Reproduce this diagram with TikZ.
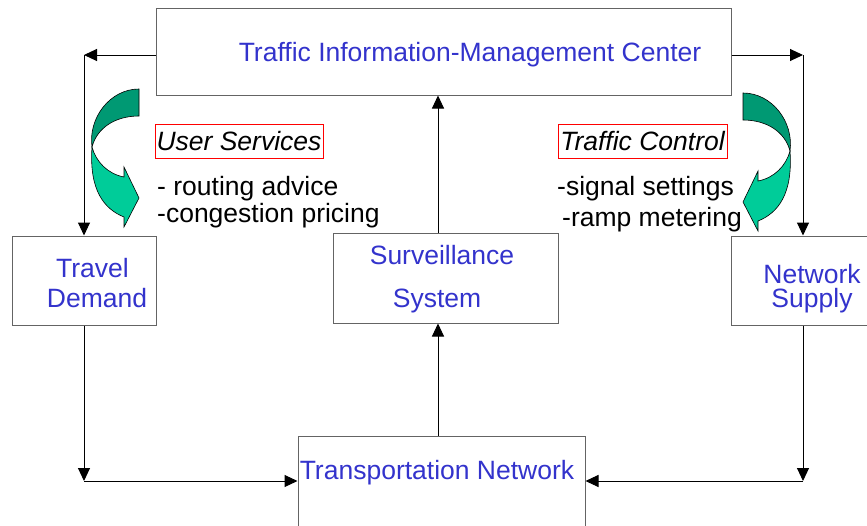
\documentclass[tikz,border=0pt]{standalone}
\usepackage{fontspec}
\setmainfont{Liberation Sans}
\usepackage{xcolor}
\usetikzlibrary{positioning}
\usetikzlibrary{arrows.meta}
\usetikzlibrary{calc}

\definecolor{txtblue}{RGB}{51,51,204}
\definecolor{boxgray}{RGB}{100,100,100}
\definecolor{bandback}{RGB}{0,153,115}
\definecolor{bandfront}{RGB}{0,204,153}

% twisted band arrow, drawn for the left side
\newcommand{\bendarrow}{%
  \filldraw[fill=bandback, draw=black, line width=0.6pt]
    (139,89) -- (139,116) .. controls (115,116) and (97,128) .. (92,147)
    .. controls (88,118) and (110,89) .. (139,89) -- cycle;
  \filldraw[fill=bandfront, draw=black, line width=0.6pt]
    (92,147) .. controls (96,162) and (108,174) .. (124,177)
    -- (124,167) -- (139,198) -- (124,227) -- (124,217)
    .. controls (104,209) and (89,190) .. (92,147) -- cycle;
}

\begin{document}
\begin{tikzpicture}[x=1pt, y=-1pt, >={Triangle[length=13pt,width=12pt]},
                    block/.style={rectangle, draw=boxgray, line width=1pt, inner sep=0pt},
                    boxtext/.style={text=txtblue, font=\fontsize{26.5}{30}\selectfont, align=center, inner sep=0pt},
                    tag/.style={draw=red, line width=0.6pt, font=\fontsize{26.5}{30}\selectfont\itshape, inner sep=0pt, minimum height=34pt},
                    items/.style={font=\fontsize{26.5}{30}\selectfont, align=left, inner sep=0pt, anchor=west},
                    flow/.style={->, line width=1pt}]
      \useasboundingbox (0,0) rectangle (867,525);

      % boxes
      \node[block, minimum width=575pt, minimum height=87pt] (tmc) at (443.5,51.5) {};
      \node[block, minimum width=144pt, minimum height=89pt] (demand) at (84,280.5) {};
      \node[block, minimum width=225pt, minimum height=90pt] (surv) at (445.5,278) {};
      \node[block, minimum width=144pt, minimum height=89pt] (supply) at (803,280.5) {};
      \node[block, minimum width=287pt, minimum height=108pt] (net) at (441.5,490) {};

      % box texts
      \node[boxtext] (tmctext) at (470,55) {Traffic Information-Management Center};
      \node[boxtext] (demandtext) at (95,283) {Travel\hspace*{5pt}\\\hspace*{4pt}Demand};
      \node[boxtext] (survtext) at (442,279) {Surveillance\\[13pt]System\hspace*{10pt}};
      \node[boxtext] (supplytext) at (812,289) {Network\\[-6pt]Supply};
      \node[boxtext] (nettext) at (437,473) {Transportation Network};

      % services and control
      \node[tag, minimum width=168pt] (services) at (239,141) {User Services};
      \node[items] (servicelist) at (157,202.5) {- routing advice\\[-3pt]-congestion pricing};
      \node[tag, minimum width=169pt] (control) at (642.5,141) {Traffic Control};
      \node[items] (controllist) at (557,204.5) {-signal settings\\[1pt]\hspace*{5pt}-ramp metering};

      \bendarrow
      \begin{scope}[xshift=882pt, yshift=-4pt, xscale=-1]
        \bendarrow
      \end{scope}

      \coordinate (nw) at (84,55);
      \coordinate (ne) at (803,55);
      \coordinate (sw) at (84,481);
      \coordinate (se) at (803,481);
      \coordinate (spine) at (438,0);

      \path[flow]
	(tmc.west |- nw) edge (nw)
	(nw) edge (demand.north)
	(tmc.east |- ne) edge (ne)
	(ne) edge (supply.north)
	(net.north -| spine) edge (surv.south -| spine)
	(surv.north -| spine) edge (tmc.south -| spine)
	(demand.south) edge (sw)
	(sw) edge (net.west |- sw)
	(supply.south) edge (se)
	(se) edge (net.east |- se);

\end{tikzpicture}
\end{document}
